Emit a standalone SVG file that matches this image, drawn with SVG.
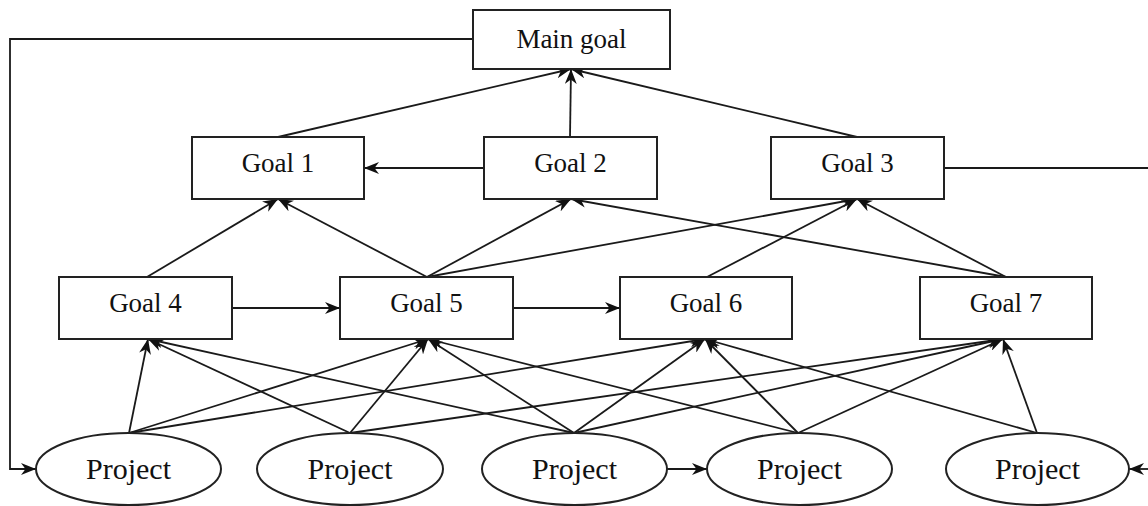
<svg xmlns="http://www.w3.org/2000/svg" width="1148" height="506" viewBox="0 0 1148 506">
<style>
.box{fill:#fff;stroke:#222;stroke-width:2}
.ell{fill:#fff;stroke:#222;stroke-width:2}
.t{font-family:'Liberation Serif',Tinos,'Times New Roman','DejaVu Serif',serif;font-size:27px;fill:#111;text-anchor:middle}
.p{font-family:'Liberation Serif',Tinos,'Times New Roman','DejaVu Serif',serif;font-size:30px;fill:#111;text-anchor:middle}
.c{fill:none;stroke:#1a1a1a;stroke-width:1.8}
.a{marker-end:url(#arr)}
</style>
<defs>
<marker id="arr" viewBox="0 0 15 12" refX="15" refY="6" markerWidth="15" markerHeight="12" markerUnits="userSpaceOnUse" orient="auto">
<path d="M0,0 L15,6 L0,12 L4.5,6 Z" fill="#111"/>
</marker>
</defs>
<rect width="1148" height="506" fill="#fff"/>
<g id="connectors">
<polyline class="c a" points="473,39 10,39 10,469 36,469"/>
<line class="c" x1="944" y1="168" x2="1148" y2="168"/>
<line class="c a" x1="1148" y1="469" x2="1129" y2="469"/>
<line class="c a" x1="278" y1="137" x2="571" y2="69"/>
<line class="c a" x1="570" y1="137" x2="571" y2="69"/>
<line class="c a" x1="857" y1="137" x2="571" y2="69"/>
<line class="c a" x1="484" y1="168" x2="364" y2="168"/>
<line class="c a" x1="147" y1="277" x2="278" y2="199"/>
<line class="c a" x1="427" y1="277" x2="278" y2="199"/>
<line class="c a" x1="427" y1="277" x2="571" y2="199"/>
<line class="c a" x1="1006" y1="277" x2="571" y2="199"/>
<line class="c a" x1="427" y1="277" x2="857" y2="199"/>
<line class="c a" x1="707" y1="277" x2="857" y2="199"/>
<line class="c a" x1="1006" y1="277" x2="857" y2="199"/>
<line class="c a" x1="232" y1="308" x2="340" y2="308"/>
<line class="c a" x1="513" y1="308" x2="620" y2="308"/>
<line class="c a" x1="667" y1="469" x2="707" y2="469"/>
<line class="c a" x1="129" y1="433" x2="148" y2="339"/>
<line class="c a" x1="129" y1="433" x2="428" y2="339"/>
<line class="c a" x1="129" y1="433" x2="705" y2="339"/>
<line class="c a" x1="350" y1="433" x2="148" y2="339"/>
<line class="c a" x1="350" y1="433" x2="428" y2="339"/>
<line class="c a" x1="350" y1="433" x2="1003" y2="339"/>
<line class="c a" x1="574" y1="433" x2="148" y2="339"/>
<line class="c a" x1="574" y1="433" x2="428" y2="339"/>
<line class="c a" x1="574" y1="433" x2="705" y2="339"/>
<line class="c a" x1="574" y1="433" x2="1003" y2="339"/>
<line class="c a" x1="798" y1="433" x2="428" y2="339"/>
<line class="c a" x1="798" y1="433" x2="705" y2="339"/>
<line class="c a" x1="798" y1="433" x2="1003" y2="339"/>
<line class="c a" x1="1037" y1="433" x2="705" y2="339"/>
<line class="c a" x1="1037" y1="433" x2="1003" y2="339"/>
</g>
<g id="main-goal"><rect class="box" x="473" y="10" width="197" height="59"/><text class="t" x="571.5" y="48">Main goal</text></g>
<g id="goal-1"><rect class="box" x="192" y="137" width="172" height="62"/><text class="t" x="278" y="172">Goal 1</text></g>
<g id="goal-2"><rect class="box" x="484" y="137" width="173" height="62"/><text class="t" x="570.5" y="172">Goal 2</text></g>
<g id="goal-3"><rect class="box" x="771" y="137" width="173" height="62"/><text class="t" x="857.5" y="172">Goal 3</text></g>
<g id="goal-4"><rect class="box" x="59" y="277" width="173" height="62"/><text class="t" x="145.5" y="312">Goal 4</text></g>
<g id="goal-5"><rect class="box" x="340" y="277" width="173" height="62"/><text class="t" x="426.5" y="312">Goal 5</text></g>
<g id="goal-6"><rect class="box" x="620" y="277" width="172" height="62"/><text class="t" x="706" y="312">Goal 6</text></g>
<g id="goal-7"><rect class="box" x="920" y="277" width="172" height="62"/><text class="t" x="1006" y="312">Goal 7</text></g>
<g id="project-1"><ellipse class="ell" cx="128.5" cy="469" rx="92.5" ry="36"/><text class="p" x="128.5" y="479">Project</text></g>
<g id="project-2"><ellipse class="ell" cx="350" cy="469" rx="93" ry="36"/><text class="p" x="350" y="479">Project</text></g>
<g id="project-3"><ellipse class="ell" cx="574.5" cy="469" rx="92.5" ry="36"/><text class="p" x="574.5" y="479">Project</text></g>
<g id="project-4"><ellipse class="ell" cx="799.5" cy="469" rx="92.5" ry="36"/><text class="p" x="799.5" y="479">Project</text></g>
<g id="project-5"><ellipse class="ell" cx="1037.5" cy="469" rx="91.5" ry="36"/><text class="p" x="1037.5" y="479">Project</text></g>
</svg>
